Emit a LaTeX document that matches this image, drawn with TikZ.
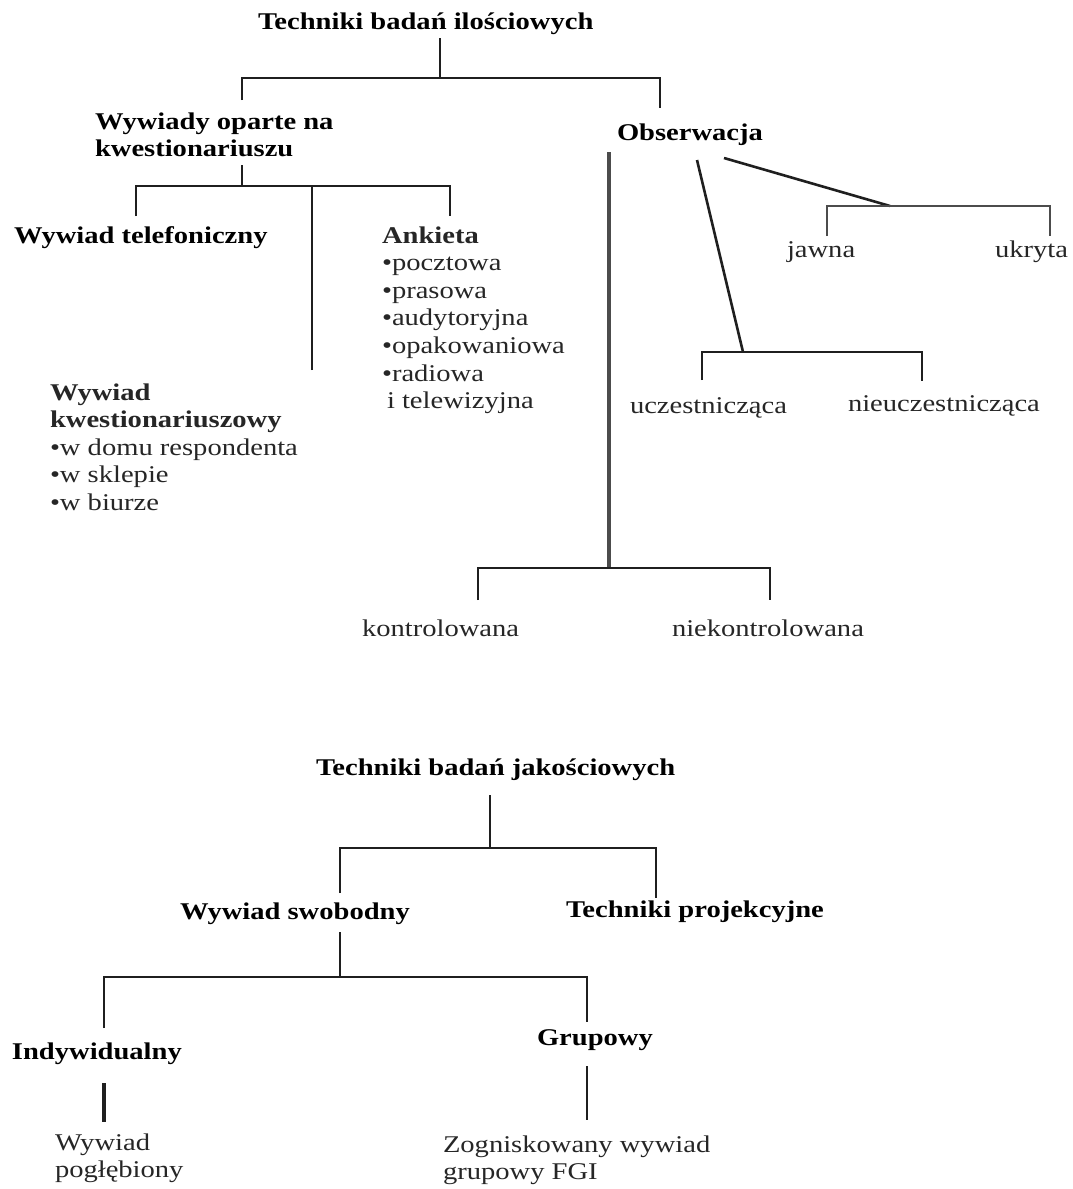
\documentclass[tikz,border=0pt]{standalone}
\usepackage{fontspec}
\setmainfont{Liberation Serif}[FakeStretch=1.19]
\begin{document}
\begin{tikzpicture}[x=1pt,y=-1pt,
  lbl/.style={anchor=base west, inner sep=0pt, outer sep=0pt,
    font=\fontsize{24}{27.6}\selectfont, text=black!85},
  head/.style={lbl, font=\fontsize{24}{27.6}\selectfont\bfseries, text=black},
  link/.style={line width=2.6pt, draw=black!88},
  trunk/.style={line width=3.2pt, draw=black!70}]
\useasboundingbox[fill=white] (0,0) rectangle (1073,1189);

% ---------- quantitative techniques ----------
\node[head] (ilo) at (258,29) {Techniki badań ilościowych};
\node[head] (wyk) at (95,129) {\begin{tabular}[t]{@{}l@{}}Wywiady oparte na\\kwestionariuszu\end{tabular}};
\node[head] (obs) at (617,140) {Obserwacja};
\node[head] (tel) at (14,243) {Wywiad telefoniczny};
\node[lbl] (ank) at (382,243) {\begin{tabular}[t]{@{}l@{}}\bfseries Ankieta\\•pocztowa\\•prasowa\\•audytoryjna\\•opakowaniowa\\•radiowa\\\hspace{5pt}i telewizyjna\end{tabular}};
\node[lbl] (kw) at (50,400) {\begin{tabular}[t]{@{}l@{}}\bfseries Wywiad\\\bfseries kwestionariuszowy\\•w domu respondenta\\•w sklepie\\•w biurze\end{tabular}};
\node[lbl] (jaw) at (787,257) {jawna};
\node[lbl] (ukr) at (995,257) {ukryta};
\node[lbl] (ucz) at (630,413) {uczestnicząca};
\node[lbl] (nucz) at (848,411) {nieuczestnicząca};
\node[lbl] (kon) at (362,636) {kontrolowana};
\node[lbl] (nkon) at (672,636) {niekontrolowana};

% root bracket
\coordinate (r0) at (440,38);
\coordinate (h1l) at (242,78);
\coordinate (h1r) at (660,78);
\coordinate (c1) at (242,100);
\coordinate (c2) at (660,108);
\draw[link] (r0) -- (r0 |- h1l);
\draw[link] (c1) -- (h1l) -- (h1r) -- (c2);

% questionnaire interviews
\coordinate (w0) at (242,165);
\coordinate (h2l) at (136,186);
\coordinate (h2r) at (450,186);
\coordinate (d1) at (136,216);
\coordinate (d2) at (312,370);
\coordinate (d3) at (450,216);
\draw[link] (w0) -- (w0 |- h2l);
\draw[link] (d1) -- (h2l) -- (h2r) -- (d3);
\draw[link] (d2) -- (d2 |- h2l);

% observation: controlled / uncontrolled
\coordinate (o1) at (609,152);
\coordinate (h3l) at (478,568);
\coordinate (h3r) at (770,568);
\coordinate (k1) at (478,600);
\coordinate (k2) at (770,600);
\draw[trunk] (o1) -- (o1 |- h3l);
\draw[link] (k1) -- (h3l) -- (h3r) -- (k2);

% observation: participant / non-participant
\coordinate (o2) at (697,160);
\coordinate (h4m) at (743,352);
\coordinate (h4l) at (702,352);
\coordinate (h4r) at (922,352);
\coordinate (u1) at (702,380);
\coordinate (u2) at (922,381);
\draw[link] (o2) -- (h4m);
\draw[link] (u1) -- (h4l) -- (h4r) -- (u2);

% observation: overt / covert
\coordinate (o3) at (724,158);
\coordinate (h5m) at (890,206);
\coordinate (h5l) at (827,206);
\coordinate (h5r) at (1050,206);
\coordinate (j1) at (827,236);
\coordinate (j2) at (1050,236);
\draw[link] (o3) -- (h5m);
\draw[link,draw=black!70] (j1) -- (h5l) -- (h5r) -- (j2);

% ---------- qualitative techniques ----------
\node[head] (jak) at (316,775) {Techniki badań jakościowych};
\node[head] (swo) at (180,919) {Wywiad swobodny};
\node[head] (pro) at (566,917) {Techniki projekcyjne};
\node[head] (ind) at (12,1059) {Indywidualny};
\node[head] (gru) at (537,1045) {Grupowy};
\node[lbl] (pog) at (55,1150) {\begin{tabular}[t]{@{}l@{}}Wywiad\\pogłębiony\end{tabular}};
\node[lbl] (fgi) at (443,1152) {\begin{tabular}[t]{@{}l@{}}Zogniskowany wywiad\\grupowy FGI\end{tabular}};

\coordinate (q0) at (490,795);
\coordinate (h6l) at (340,848);
\coordinate (h6r) at (656,848);
\coordinate (s1) at (340,893);
\coordinate (s2) at (656,898);
\draw[link] (q0) -- (q0 |- h6l);
\draw[link] (s1) -- (h6l) -- (h6r) -- (s2);

\coordinate (sw) at (340,932);
\coordinate (h7l) at (104,977);
\coordinate (h7r) at (587,977);
\coordinate (g1) at (104,1028);
\coordinate (g2) at (587,1022);
\draw[link] (sw) -- (sw |- h7l);
\draw[link] (g1) -- (h7l) -- (h7r) -- (g2);

\coordinate (i1) at (104,1083);
\coordinate (i2) at (104,1122);
\coordinate (p1) at (587,1066);
\coordinate (p2) at (587,1120);
\draw[link,line width=4pt] (i1) -- (i2);
\draw[link] (p1) -- (p2);
\end{tikzpicture}
\end{document}
